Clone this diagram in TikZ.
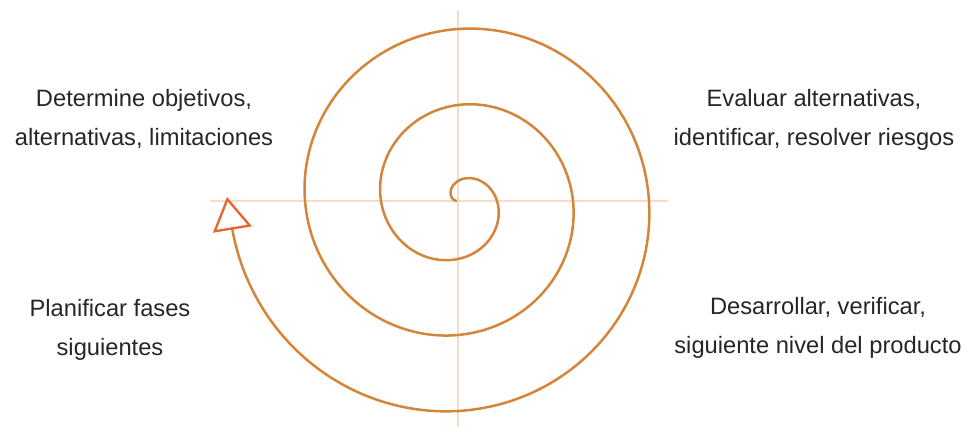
\documentclass[tikz,border=0pt]{standalone}
\usepackage{fontspec}
\setmainfont{Liberation Sans}
\usepackage{xcolor}
\usetikzlibrary{arrows.meta,positioning}
\definecolor{spiralbrown}{HTML}{D4853A}
\definecolor{axispeach}{HTML}{F7DCC8}
\definecolor{tipred}{HTML}{E86428}
\tikzset{
  phase/.style = {align=center, anchor=base, inner sep=0pt,
                  font=\fontsize{23.7}{38.5}\selectfont, text=black!85},
  axis/.style  = {draw=axispeach, line width=1.3pt}
}

\begin{document}
\begin{tikzpicture}[x=1pt,y=-1pt]
  \useasboundingbox (0,0) rectangle (968,428);

  % cross through the centre
  \coordinate (o) at (458,201);
  \coordinate (top) at (458,10);
  \coordinate (bot) at (458,427);
  \coordinate (lft) at (210,201);
  \coordinate (rgt) at (668,201);
  \draw[axis] (top) -- (bot);
  \draw[axis] (lft) -- (rgt);

  % spiral, r grows about 76 per turn
  \coordinate (tip) at (227,197);
  \draw[spiralbrown, line width=2.5pt,
        -{Triangle[open,length=33pt,width=39pt,color=tipred,line width=2.3pt]}]
    plot[domain=-90:982, samples=400, smooth, variable=\t]
      ({458+(20+0.2111*\t)*sin(\t)}, {201-(20+0.2111*\t)*cos(\t)})
    -- (tip);

  % the four phases (base = last line)
  \node[phase] (plan)  at (144,145) {Determine objetivos,\\alternativas, limitaciones};
  \node[phase] (risk)  at (814,145) {Evaluar alternativas,\\identificar, resolver riesgos};
  \node[phase] (next)  at (110,355) {Planificar fases\\siguientes};
  \node[phase] (build) at (818,353) {Desarrollar, verificar,\\siguiente nivel del producto};

\end{tikzpicture}
\end{document}
